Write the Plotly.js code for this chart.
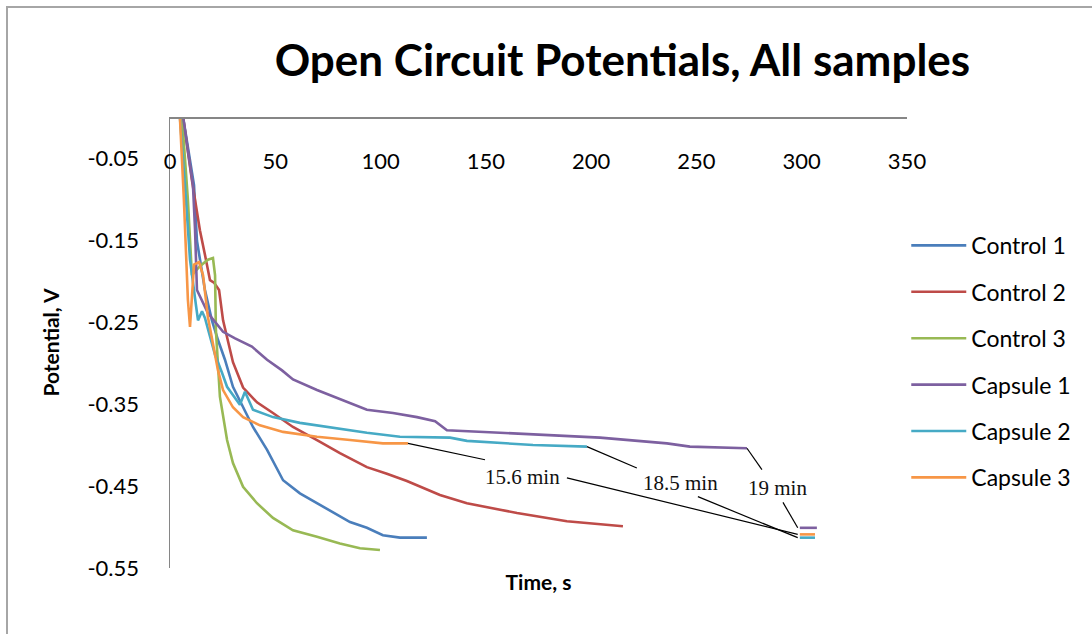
<!DOCTYPE html>
<html>
<head>
<meta charset="utf-8">
<script src="https://cdn.plot.ly/plotly-3.0.1.min.js"></script>
<style>
  html, body { margin: 0; padding: 0; background: #ffffff; }
  #chart { width: 1092px; height: 634px; position: relative; }
  #frame { position: absolute; left: 6px; top: 6px; width: 1086px; height: 628px;
           border-left: 2px solid #a6a6a6; border-top: 2px solid #a6a6a6; pointer-events: none; }
</style>
</head>
<body>
<div id="chart"></div>
<div id="frame"></div>
<script>
// ---- data (time in s, potential in V) ----
const seriesNames = ["Control 1", "Control 2", "Control 3", "Capsule 1", "Capsule 2", "Capsule 3"];

const t_control1 = [0, 6.2, 11.4, 12.8, 16.6, 19.9, 22.8, 26.1, 29.9, 34.7, 39.4, 46.1, 53.7, 61.7, 69.8, 77.4, 85.5, 93.5, 101.1, 109.2, 122.0];
const v_control1 = [0, 0, -0.083, -0.151, -0.211, -0.248, -0.272, -0.296, -0.329, -0.354, -0.378, -0.406, -0.443, -0.459, -0.471, -0.483, -0.494, -0.501, -0.510, -0.513, -0.513];

const t_control2 = [0, 6.2, 10.4, 14.2, 16.6, 19.0, 20.9, 23.3, 25.2, 27.5, 29.9, 34.7, 41.3, 48.9, 58.4, 69.8, 80.7, 93.5, 103.0, 112.5, 128.2, 141.0, 164.8, 188.5, 215.1];
const v_control2 = [0, 0, -0.077, -0.138, -0.168, -0.199, -0.202, -0.211, -0.248, -0.272, -0.299, -0.330, -0.348, -0.361, -0.378, -0.394, -0.410, -0.427, -0.435, -0.444, -0.461, -0.471, -0.483, -0.493, -0.499];

const t_control3 = [0, 5.7, 8.5, 10.4, 14.2, 18.0, 20.4, 21.4, 21.8, 22.8, 23.7, 27.1, 29.9, 34.7, 41.3, 48.9, 58.4, 69.8, 80.7, 90.2, 99.7];
const v_control3 = [0, 0, -0.101, -0.193, -0.182, -0.174, -0.172, -0.193, -0.260, -0.309, -0.341, -0.394, -0.422, -0.451, -0.471, -0.489, -0.504, -0.512, -0.520, -0.526, -0.528];

// capsule series: a null separates the measured run from the final reading
const t_capsule1 = [0, 6.2, 10.9, 11.9, 12.8, 18.0, 25.2, 30.9, 38.9, 46.1, 53.2, 58.4, 69.8, 82.1, 93.5, 105.9, 117.3, 125.9, 131.5, 156.7, 204.2, 236.0, 246.9, 274.0, null, 299.1, 307.2];
const v_capsule1 = [0, 0, -0.083, -0.138, -0.211, -0.239, -0.262, -0.270, -0.280, -0.296, -0.309, -0.320, -0.333, -0.345, -0.357, -0.361, -0.366, -0.371, -0.382, -0.385, -0.391, -0.398, -0.402, -0.404, null, -0.501, -0.501];

const t_capsule2 = [0, 4.7, 7.6, 9.5, 12.3, 13.3, 15.2, 16.6, 18.5, 21.4, 24.7, 27.1, 33.2, 35.6, 39.4, 48.9, 61.7, 77.4, 93.5, 109.2, 133.0, 141.0, 172.4, 198.0, null, 299.1, 306.3];
const v_capsule2 = [0, 0, -0.101, -0.174, -0.229, -0.248, -0.237, -0.245, -0.263, -0.290, -0.312, -0.329, -0.351, -0.335, -0.357, -0.366, -0.373, -0.379, -0.385, -0.390, -0.391, -0.395, -0.400, -0.402, null, -0.513, -0.513];

const t_capsule3 = [0, 4.7, 6.6, 7.6, 8.5, 9.5, 10.4, 11.4, 13.8, 15.7, 18.0, 20.4, 22.8, 25.2, 29.9, 34.7, 42.7, 53.7, 69.8, 85.5, 101.1, 113.0, null, 299.1, 306.3];
const v_capsule3 = [0, 0, -0.101, -0.162, -0.223, -0.256, -0.223, -0.180, -0.177, -0.193, -0.244, -0.278, -0.309, -0.333, -0.354, -0.366, -0.376, -0.384, -0.390, -0.394, -0.398, -0.398, null, -0.509, -0.509];

// final-reading labels for the capsule runs
const finalLabels = ["15.6 min", "18.5 min", "19 min"];

const xTickVals = [0, 50, 100, 150, 200, 250, 300, 350];
const yTickVals = [-0.05, -0.15, -0.25, -0.35, -0.45, -0.55];
const yTickText = ["-0.05", "-0.15", "-0.25", "-0.35", "-0.45", "-0.55"];

// ---- styling ----
const colors = ["#4a7ebb", "#be4b48", "#98b954", "#7d60a0", "#46aac5", "#f79646"];
const FONT = "Lato, 'Open Sans', sans-serif";

const allT = [t_control1, t_control2, t_control3, t_capsule1, t_capsule2, t_capsule3];
const allV = [v_control1, v_control2, v_control3, v_capsule1, v_capsule2, v_capsule3];

const traces = seriesNames.map((name, i) => ({
  type: "scatter", mode: "lines", name: name,
  x: allT[i], y: allV[i], connectgaps: false,
  legendgroup: "g" + i,
  line: { color: colors[i], width: 2.6 },
  cliponaxis: true
}));

// leader lines & labels for capsule final readings (layout positions only)
const labelPos = [
  { series: 5, x: 167.6, y: -0.439, a: [149.6, -0.418], b: [188.5, -0.440] },
  { series: 4, x: 242.2, y: -0.446, a: [221.7, -0.428], b: [250.7, -0.463] },
  { series: 3, x: 288.7, y: -0.452, a: [281.1, -0.430], b: [291.1, -0.470] }
];

const shapes = [];
const annotations = [];
labelPos.forEach((lp, k) => {
  const T = allT[lp.series], V = allV[lp.series];
  const gap = T.indexOf(null);
  const sx = T[gap - 1], sy = V[gap - 1];
  const ex = T[gap + 1], ey = V[gap + 1];
  shapes.push({ type: "line", xref: "x", yref: "y", x0: sx, y0: sy, x1: lp.a[0], y1: lp.a[1],
                line: { color: "#000000", width: 1.2 } });
  shapes.push({ type: "line", xref: "x", yref: "y", x0: lp.b[0], y0: lp.b[1], x1: ex - 1, y1: ey,
                line: { color: "#000000", width: 1.2 } });
  annotations.push({ xref: "x", yref: "y", x: lp.x, y: lp.y, text: finalLabels[k], showarrow: false,
                     font: { family: "'Liberation Serif', 'Times New Roman', serif", size: 21, color: "#111111" } });
});

const layout = {
  width: 1092, height: 634,
  margin: { l: 170, r: 185, t: 117, b: 66 },
  paper_bgcolor: "#ffffff", plot_bgcolor: "#ffffff",
  font: { family: FONT, color: "#000000" },
  title: { text: "<b>Open Circuit Potentials, All samples</b>", x: 0.57, xanchor: "center",
           y: 0.905, yanchor: "middle", font: { family: FONT, size: 44, color: "#000000" } },
  xaxis: {
    range: [0, 350], tickvals: xTickVals, ticktext: xTickVals.map(String),
    anchor: "free", position: 1, side: "bottom",
    showline: true, linecolor: "#868686", linewidth: 1.5,
    showgrid: false, zeroline: false, ticks: "",
    ticklabelstandoff: 24,
    tickfont: { family: FONT, size: 22, color: "#000000" },
    title: { text: "<b>Time, s</b>", standoff: 402, font: { family: FONT, size: 21, color: "#000000" } }
  },
  yaxis: {
    range: [-0.55, 0], tickvals: yTickVals, ticktext: yTickText,
    showline: true, linecolor: "#868686", linewidth: 1.5,
    showgrid: false, zeroline: false, ticks: "",
    ticklabelstandoff: 25,
    tickfont: { family: FONT, size: 22, color: "#000000" },
    title: { text: "<b>Potential, V</b>", standoff: 22, font: { family: FONT, size: 21, color: "#000000" } }
  },
  legend: {
    x: 0.999, xanchor: "left", y: 0.458, yanchor: "middle",
    font: { family: FONT, size: 23, color: "#000000" },
    itemwidth: 55, tracegroupgap: 13.5, bgcolor: "rgba(0,0,0,0)"
  },
  showlegend: true,
  shapes: shapes,
  annotations: annotations
};

Plotly.newPlot("chart", traces, layout, { displayModeBar: false, staticPlot: true });
</script>
</body>
</html>
